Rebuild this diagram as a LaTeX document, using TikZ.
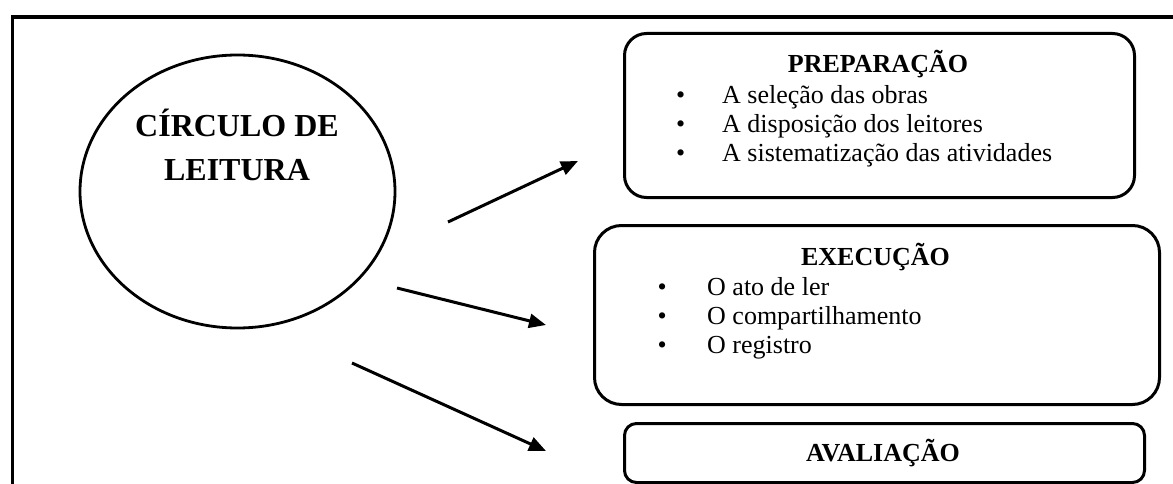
\documentclass[tikz,border=0pt]{standalone}
\usepackage{fontspec}
\setmainfont{Liberation Serif}
\usetikzlibrary{shapes.geometric,arrows.meta}
\begin{document}
\begin{tikzpicture}[x=1pt,y=-1pt,
  box/.style={draw, line width=3pt, rectangle, inner sep=0pt, anchor=north west},
  ttl/.style={font=\fontsize{26}{30}\selectfont\bfseries, anchor=base, inner sep=0pt},
  itm/.style={font=\fontsize{26}{30}\selectfont, anchor=base west, inner sep=0pt},
  big/.style={font=\fontsize{32}{43}\selectfont\bfseries, anchor=base, inner sep=0pt},
  arr/.style={-{Triangle[length=17pt,width=14pt]}, line width=3pt}]
\useasboundingbox (0,0) rectangle (1173,484);
% frame
\draw[line width=3.5pt] (12.5,500) -- (12.5,17) -- (1190,17);
% circle
\node[draw, ellipse, line width=2.8pt, minimum width=315pt, minimum height=273pt, inner sep=0pt] (circ) at (237.5,191.5) {};
\node[big] (circA) at (237,137) {CÍRCULO DE};
\node[big] (circB) at (237,180) {LEITURA};
% boxes
\node[box, minimum width=510pt, minimum height=164pt, rounded corners=22pt] (prep) at (623,32) {};
\node[ttl] (prepT) at (878,73) {PREPARAÇÃO};
\node[itm] (prep1) at (676,104) {\makebox[46pt][l]{•}A seleção das obras};
\node[itm] (prep2) at (676,133) {\makebox[46pt][l]{•}A disposição dos leitores};
\node[itm] (prep3) at (676,162) {\makebox[46pt][l]{•}A sistematização das atividades};
\node[box, minimum width=565pt, minimum height=179pt, rounded corners=27pt] (exec) at (593,224) {};
\node[ttl] (execT) at (875.5,265) {EXECUÇÃO};
\node[itm] (exec1) at (657.5,295) {\makebox[49.5pt][l]{•}O ato de ler};
\node[itm] (exec2) at (657.5,324) {\makebox[49.5pt][l]{•}O compartilhamento};
\node[itm] (exec3) at (657.5,353) {\makebox[49.5pt][l]{•}O registro};
\node[box, minimum width=520pt, minimum height=59pt, rounded corners=12pt] (aval) at (623,422) {};
\node[ttl] (avalT) at (883,461) {AVALIAÇÃO};
% arrows
\coordinate (a1s) at (448,222);
\coordinate (a1e) at (578,161);
\coordinate (a2s) at (397,288);
\coordinate (a2e) at (546,325);
\coordinate (a3s) at (352,363);
\coordinate (a3e) at (546,451);
\draw[arr] (a1s) -- (a1e);
\draw[arr] (a2s) -- (a2e);
\draw[arr] (a3s) -- (a3e);
\end{tikzpicture}
\end{document}
